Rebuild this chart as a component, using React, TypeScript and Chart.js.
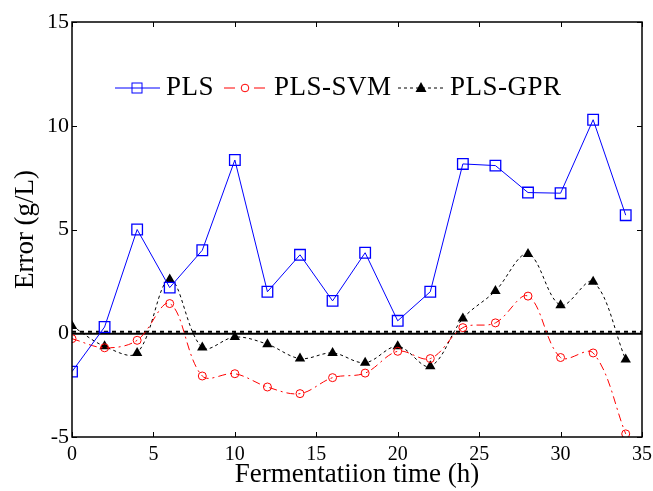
import React, { useEffect, useRef } from "react";
import { Chart, registerables } from "chart.js";

Chart.register(...registerables);

const timeH = [0, 2, 4, 6, 8, 10, 12, 14, 16, 18, 20, 22, 24, 26, 28, 30, 32, 34];
const plsErr = [-1.85, 0.3, 5.0, 2.2, 4.0, 8.35, 2.0, 3.78, 1.56, 3.88, 0.6, 2.0, 8.16, 8.08, 6.78, 6.75, 10.29, 5.69];
const svmErr = [-0.26, -0.7, -0.34, 1.43, -2.06, -1.95, -2.59, -2.91, -2.14, -1.92, -0.87, -1.22, 0.27, 0.5, 1.79, -1.17, -0.95, -4.85];
const gprErr = [0.35, -0.63, -0.95, 2.59, -0.69, -0.18, -0.53, -1.22, -0.95, -1.42, -0.63, -1.59, 0.71, 2.04, 3.82, 1.35, 2.48, -1.27];
const legendLabels = ["PLS", "PLS-SVM", "PLS-GPR"];
const xTicks = [0, 5, 10, 15, 20, 25, 30, 35];
const yTicks = [-5, 0, 5, 10, 15];

const SERIF = '"Liberation Serif", "Times New Roman", serif';

const toPts = (ys: number[]) => ys.map((y, i) => ({ x: timeH[i], y }));

export default function App() {
  const ref = useRef<HTMLCanvasElement | null>(null);
  useEffect(() => {
    if (!ref.current) return;

    const framePlugin = {
      id: "frame",
      beforeDatasetsDraw(chart: any) {
        const { ctx, chartArea: a, scales } = chart;
        const ys = scales.y;
        const y0 = ys.getPixelForValue(0);
        ctx.save();
        ctx.strokeStyle = "#000";
        ctx.lineWidth = 2;
        ctx.beginPath();
        ctx.moveTo(a.left, y0 + 0.5);
        ctx.lineTo(a.right, y0 + 0.5);
        ctx.stroke();
        ctx.setLineDash([4, 4]);
        ctx.lineWidth = 2;
        ctx.beginPath();
        ctx.moveTo(a.left, y0 - 1.5);
        ctx.lineTo(a.right, y0 - 1.5);
        ctx.stroke();
        ctx.restore();
      },
      afterDatasetsDraw(chart: any) {
        const { ctx, chartArea: a, scales } = chart;
        ctx.save();
        ctx.strokeStyle = "#000";
        ctx.lineWidth = 1.5;
        ctx.strokeRect(a.left, a.top, a.right - a.left, a.bottom - a.top);
        ctx.lineWidth = 1;
        const tl = 5;
        ctx.beginPath();
        xTicks.forEach((v) => {
          const px = Math.round(scales.x.getPixelForValue(v)) + 0.5;
          ctx.moveTo(px, a.bottom);
          ctx.lineTo(px, a.bottom - tl);
          ctx.moveTo(px, a.top);
          ctx.lineTo(px, a.top + tl);
        });
        yTicks.forEach((v) => {
          const py = Math.round(scales.y.getPixelForValue(v)) + 0.5;
          ctx.moveTo(a.left, py);
          ctx.lineTo(a.left + tl, py);
          ctx.moveTo(a.right, py);
          ctx.lineTo(a.right - tl, py);
        });
        ctx.stroke();

        // legend
        const ly = 88;
        ctx.font = `27px ${SERIF}`;
        try { (ctx as any).letterSpacing = "0.5px"; } catch (e) {}
        ctx.textBaseline = "middle";
        ctx.fillStyle = "#000";
        // PLS
        ctx.strokeStyle = "#0000ff";
        ctx.lineWidth = 1;
        ctx.setLineDash([]);
        ctx.beginPath();
        ctx.moveTo(115, ly);
        ctx.lineTo(160, ly);
        ctx.stroke();
        ctx.strokeRect(132, ly - 5, 10, 10);
        ctx.fillText(legendLabels[0], 166, ly);
        // PLS-SVM
        ctx.strokeStyle = "#ff0000";
        ctx.beginPath();
        ctx.moveTo(224, ly);
        ctx.lineTo(235, ly);
        ctx.moveTo(254, ly);
        ctx.lineTo(265, ly);
        ctx.stroke();
        ctx.beginPath();
        ctx.arc(245, ly, 3.8, 0, Math.PI * 2);
        ctx.stroke();
        ctx.fillText(legendLabels[1], 274, ly);
        // PLS-GPR
        ctx.strokeStyle = "#000";
        ctx.setLineDash([3, 3]);
        ctx.beginPath();
        ctx.moveTo(398, ly);
        ctx.lineTo(445, ly);
        ctx.stroke();
        ctx.setLineDash([]);
        ctx.beginPath();
        ctx.moveTo(421, ly - 6);
        ctx.lineTo(426.5, ly + 4);
        ctx.lineTo(415.5, ly + 4);
        ctx.closePath();
        ctx.fill();
        ctx.fillText(legendLabels[2], 450, ly);
        ctx.restore();
      },
    };

    const chart = new Chart(ref.current, {
      type: "line",
      data: {
        datasets: [
          {
            label: legendLabels[0],
            data: toPts(plsErr),
            borderColor: "#0000ff",
            backgroundColor: "transparent",
            borderWidth: 1,
            pointStyle: "rect",
            pointRadius: 7.5,
            pointBorderWidth: 1.3,
            pointBorderColor: "#0000ff",
            pointBackgroundColor: "transparent",
            tension: 0,
          },
          {
            label: legendLabels[1],
            data: toPts(svmErr),
            borderColor: "#ff0000",
            backgroundColor: "transparent",
            borderWidth: 1,
            borderDash: [8, 4, 2, 4],
            pointStyle: "circle",
            pointRadius: 4,
            pointBorderWidth: 1,
            pointBorderColor: "#ff0000",
            pointBackgroundColor: "transparent",
            tension: 0.35,
          },
          {
            label: legendLabels[2],
            data: toPts(gprErr),
            borderColor: "#000000",
            backgroundColor: "transparent",
            borderWidth: 1,
            borderDash: [3, 3],
            pointStyle: "triangle",
            pointRadius: 6,
            pointBorderWidth: 0,
            pointBackgroundColor: "#000000",
            pointBorderColor: "#000000",
            tension: 0.35,
          },
        ],
      },
      options: {
        animation: false,
        responsive: false,
        devicePixelRatio: 1,
        layout: { padding: { top: 22, right: 11, left: 0, bottom: 0 } },
        plugins: { legend: { display: false }, tooltip: { enabled: false } },
        scales: {
          x: {
            type: "linear",
            min: 0,
            max: 35,
            grid: { display: false, drawTicks: false },
            border: { display: false },
            afterBuildTicks: (s: any) => {
              s.ticks = xTicks.map((v) => ({ value: v }));
            },
            afterFit: (s: any) => {
              s.height = 54;
              s.paddingLeft = 0;
              s.paddingRight = 0;
            },
            ticks: {
              color: "#000",
              padding: 6,
              font: { family: SERIF, size: 20 },
              maxRotation: 0,
            },
            title: {
              display: true,
              text: "Fermentatiion time (h)",
              color: "#000",
              font: { family: SERIF, size: 27 },
              padding: { top: -2, bottom: 0 },
            },
          },
          y: {
            min: -5,
            max: 15,
            grid: { display: false, drawTicks: false },
            border: { display: false },
            afterBuildTicks: (s: any) => {
              s.ticks = yTicks.map((v) => ({ value: v }));
            },
            afterFit: (s: any) => {
              s.width = 72;
              s.paddingTop = 0;
              s.paddingBottom = 0;
            },
            ticks: {
              color: "#000",
              padding: 3,
              font: { family: SERIF, size: 22 },
            },
            title: {
              display: true,
              text: "Error (g/L)",
              color: "#000",
              font: { family: SERIF, size: 27 },
              padding: { top: 10, bottom: 0 },
            },
          },
        },
      },
      plugins: [framePlugin],
    } as any);
    return () => chart.destroy();
  }, []);

  return (
    <div style={{ position: "fixed", left: 0, top: 0, width: 653, height: 491, background: "#fff" }}>
      <canvas ref={ref} width={653} height={491} style={{ width: 653, height: 491, display: "block" }} />
    </div>
  );
}
